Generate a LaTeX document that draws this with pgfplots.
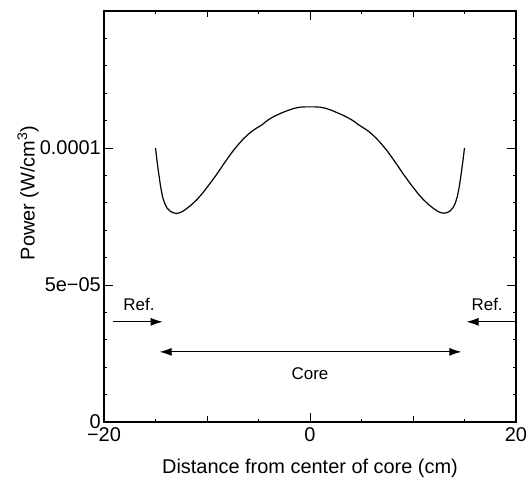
\documentclass[border=0pt]{standalone}
\usepackage{pgfplots}
\pgfplotsset{compat=1.18}
\usepackage{fontspec}
\setmainfont{Liberation Sans}
\usetikzlibrary{arrows.meta}
\pgfplotstableread{
x y
-15.0 1.000e-4
-14.85 0.952e-4
-14.7 0.910e-4
-14.5 0.858e-4
-14.3 0.820e-4
-14.1 0.797e-4
-13.9 0.782e-4
-13.6 0.770e-4
-13.3 0.764e-4
-13.0 0.761e-4
-12.7 0.763e-4
-12.4 0.768e-4
-12.0 0.778e-4
-11.5 0.793e-4
-11.0 0.811e-4
-10.5 0.832e-4
-10.0 0.856e-4
-9.5 0.881e-4
-9.0 0.907e-4
-8.5 0.935e-4
-8.0 0.962e-4
-7.5 0.988e-4
-7.0 1.011e-4
-6.5 1.032e-4
-6.0 1.050e-4
-5.5 1.065e-4
-5.0 1.077e-4
-4.6 1.086e-4
-4.4 1.093e-4
-4.0 1.104e-4
-3.5 1.115e-4
-3.0 1.124e-4
-2.5 1.132e-4
-2.0 1.139e-4
-1.5 1.145e-4
-1.0 1.149e-4
-0.5 1.150e-4
0.0 1.150e-4
0.5 1.150e-4
1.0 1.149e-4
1.5 1.145e-4
2.0 1.139e-4
2.5 1.131e-4
3.0 1.123e-4
3.5 1.114e-4
4.0 1.104e-4
4.4 1.094e-4
4.7 1.085e-4
5.0 1.078e-4
5.5 1.066e-4
6.0 1.051e-4
6.5 1.033e-4
7.0 1.012e-4
7.5 0.989e-4
8.0 0.963e-4
8.5 0.936e-4
9.0 0.908e-4
9.5 0.882e-4
10.0 0.857e-4
10.5 0.833e-4
11.0 0.812e-4
11.5 0.794e-4
12.0 0.779e-4
12.4 0.769e-4
12.7 0.764e-4
13.0 0.762e-4
13.3 0.764e-4
13.6 0.770e-4
13.9 0.783e-4
14.1 0.798e-4
14.3 0.822e-4
14.5 0.860e-4
14.7 0.912e-4
14.85 0.954e-4
15.0 1.000e-4
}\powertable
\begin{document}
\begin{tikzpicture}
\useasboundingbox (-104bp,-63bp) rectangle (427bp,422bp);
\begin{axis}[
  at={(0,0)}, anchor=south west,
  scale only axis, width=412bp, height=411bp,
  xmin=-20, xmax=20, ymin=0, ymax=1.5e-4,
  xtick={-20,0,20}, xticklabels={−20,0,20},
  ytick={0,5e-5,1e-4,1.5e-4}, yticklabels={0,5e−05,0.0001,{}},
  minor x tick num=3, minor y tick num=4,
  extra x ticks={-10,10}, extra x tick labels={},
  extra x tick style={major tick length=6bp},
  tick align=inside, major tick length=9bp, minor tick length=3.5bp,
  scaled y ticks=false, scaled x ticks=false,
  axis line style={line width=1.1bp},
  every tick/.style={line width=0.9bp, black},
  ticklabel style={font=\fontsize{20}{24}\selectfont},
  yticklabel style={inner sep=3bp},
  xticklabel style={yshift=-2bp},
  label style={font=\fontsize{20}{24}\selectfont},
  xlabel={Distance from center of core (cm)},
  ylabel={Power (W/cm\textsuperscript{3})},
  xlabel style={at={(axis description cs:0.5,0)}, anchor=center, yshift=-46bp},
  ylabel style={at={(axis description cs:-0.1845,0.557)}, anchor=center},
  clip=false,
]
\addplot[black, line width=1.2bp] table[x=x, y=y] {\powertable};
\draw[line width=1bp, -{Latex[length=12bp,width=8bp]}] (axis cs:-19.15,0.3656e-4) -- (axis cs:-14.3,0.3656e-4);
\draw[line width=1bp, -{Latex[length=12bp,width=8bp]}] (axis cs:20,0.3656e-4) -- (axis cs:15.2,0.3656e-4);
\draw[line width=1bp, {Latex[length=12bp,width=8bp]}-{Latex[length=12bp,width=8bp]}] (axis cs:-14.6,0.256e-4) -- (axis cs:14.7,0.256e-4);
\node[font=\fontsize{17}{20}\selectfont] at (axis cs:-16.6,0.43e-4) {Ref.};
\node[font=\fontsize{17}{20}\selectfont] at (axis cs:17.2,0.43e-4) {Ref.};
\node[font=\fontsize{17}{20}\selectfont] at (axis cs:0,0.175e-4) {Core};
\end{axis}
\end{tikzpicture}
\end{document}
